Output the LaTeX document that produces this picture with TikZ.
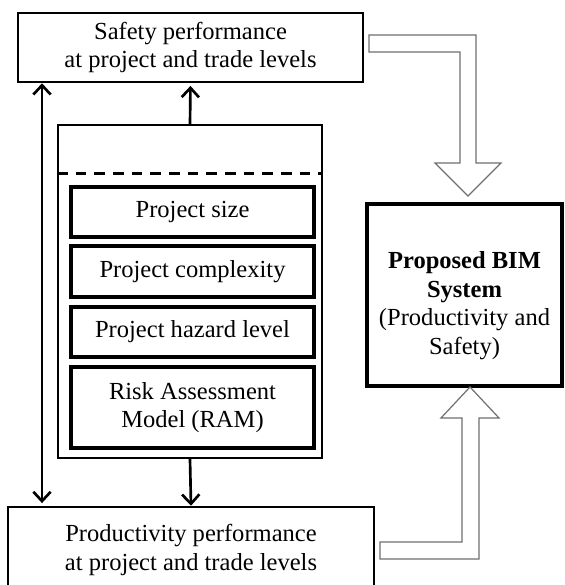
\documentclass[tikz,border=0pt]{standalone}
\usepackage{fontspec}
\setmainfont{Liberation Serif}
\usepackage{xcolor}
\usepackage{tikz}
\usetikzlibrary{arrows.meta, positioning, calc}
\definecolor{bgray}{HTML}{707070}

\begin{document}
\begin{tikzpicture}[x=0.75pt, y=-0.75pt,
  every node/.style={font=\fontsize{18.4}{21.5}\selectfont, align=center},
  outbox/.style={draw=black, line width=1.9pt, inner sep=0pt},
  inbox/.style={draw=black, line width=2.3pt, inner sep=0pt, minimum width=182.25pt},
  farrow/.style={line width=2pt, -{Straight Barb[length=7pt, width=13pt]}},
  dblarrow/.style={line width=2pt, {Straight Barb[length=7pt, width=13pt]}-{Straight Barb[length=7pt, width=13pt]}},
  blockarrow/.style={draw=bgray, line width=0.9pt, fill=white, line join=miter}]
\path[use as bounding box, fill=white] (0,0) rectangle (564,585);
% performance boxes
\node[outbox, minimum width=258.75pt, minimum height=51.75pt] (safety) at (190.5,47.5)
  {Safety performance\\at project and trade levels};
\node[outbox, minimum width=274.5pt, minimum height=64.5pt] (prod) at (191,550)
  {Productivity performance\\at project and trade levels};
% factor container
\node[draw=black, line width=1.6pt, minimum width=198pt, minimum height=249.75pt] (factors) at (190,291.5) {};
\draw[line width=2.2pt, dash pattern=on 8pt off 6pt]
  ([yshift=-37.5pt]factors.north west) -- ([yshift=-37.5pt]factors.north east);
\node[inbox, minimum height=37.5pt] (psize) at (192.5,212) {Project size};
\node[inbox, minimum height=38.25pt] (pcomplex) at (192.5,271.5) {Project complexity};
\node[inbox, minimum height=37.5pt] (phazard) at (192.5,332) {Project hazard level};
\node[inbox, minimum height=60.75pt] (ram) at (192.5,407.5) {Risk Assessment\\Model (RAM)};
% BIM system
\node[draw=black, line width=2.3pt, minimum width=146.25pt, minimum height=136.5pt] (bim) at (464.5,295) {};
\node (bimtext) at ([yshift=-8pt]bim.center)
  {\textbf{Proposed BIM}\\\textbf{System}\\(Productivity and\\Safety)};
% connectors
\coordinate (lx) at (42,0);
\draw[dblarrow, shorten <=2pt] (prod.north -| lx) -- (safety.south -| lx);
\draw[farrow, shorten >=2pt] (factors.north) -- (safety.south);
\draw[farrow] (factors.south) -- (prod.north);
% hollow block arrows
\draw[blockarrow] (369,35) -- (476,35) -- (476,163) -- (501,163) -- (468,196)
  -- (435,163) -- (460,163) -- (460,52) -- (369,52) -- cycle;
\draw[blockarrow] (380,542) -- (462,542) -- (462,418) -- (441,418) -- (470,387)
  -- (499,418) -- (479,418) -- (479,559) -- (380,559) -- cycle;
\end{tikzpicture}
\end{document}
